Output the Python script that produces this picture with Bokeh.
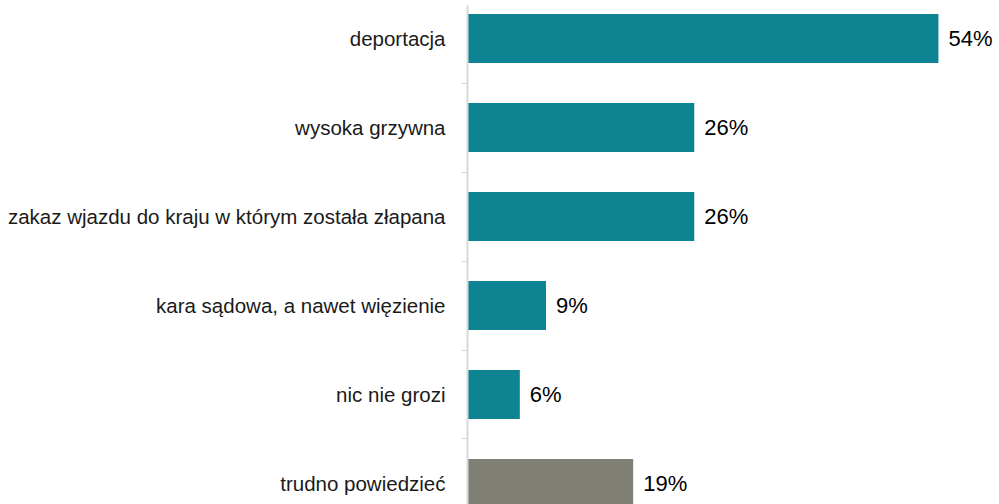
from bokeh.plotting import figure
from bokeh.models import ColumnDataSource, Range1d, FixedTicker, LabelSet
from bokeh.core.properties import value
from bokeh.embed import file_html
from bokeh.resources import INLINE

categories = ["deportacja", "wysoka grzywna", "zakaz wjazdu do kraju w którym została złapana",
              "kara sądowa, a nawet więzienie", "nic nie grozi", "trudno powiedzieć"]
values = [54, 26, 26, 9, 6, 19]
colors = ["#0E8391", "#0E8391", "#0E8391", "#0E8391", "#0E8391", "#7F7F73"]

pos = list(range(len(categories)))
labels = [f"{v}%" for v in values]

src = ColumnDataSource(dict(y=pos, v=values, c=colors, lab=labels))

p = figure(width=999, height=504, output_backend="svg", toolbar_location=None,
           x_range=Range1d(0, 61.0), y_range=Range1d(5.236, -0.371),
           min_border_left=467, min_border_right=0, min_border_top=5, min_border_bottom=0)

p.hbar(y="y", left=0, right="v", height=0.55, color="c", line_color=None, source=src)

lbl = LabelSet(x="v", y="y", text="lab", source=src, x_offset=10, y_offset=0,
               text_baseline="middle", text_align="left", text_font=value("Liberation Sans"),
               text_font_size="22px", text_color="#000000")
p.add_layout(lbl)

p.xaxis.visible = False
p.xgrid.visible = False
p.ygrid.visible = False
p.outline_line_color = None

ya = p.yaxis[0]
ya.ticker = FixedTicker(ticks=pos, minor_ticks=[i + 0.5 for i in pos[:-1]])
ya.major_label_overrides = {i: c for i, c in enumerate(categories)}
ya.major_tick_out = 0
ya.major_tick_in = 0
ya.minor_tick_out = 6
ya.minor_tick_in = 0
ya.minor_tick_line_color = "#D9D9D9"
ya.minor_tick_line_width = 1
ya.axis_line_color = "#D9D9D9"
ya.axis_line_width = 2
ya.major_label_standoff = 16
ya.major_label_text_font = "Liberation Sans"
ya.major_label_text_font_size = "20.5px"
ya.major_label_text_color = "#1A1A1A"

open("out.html", "w").write(file_html(p, INLINE))
